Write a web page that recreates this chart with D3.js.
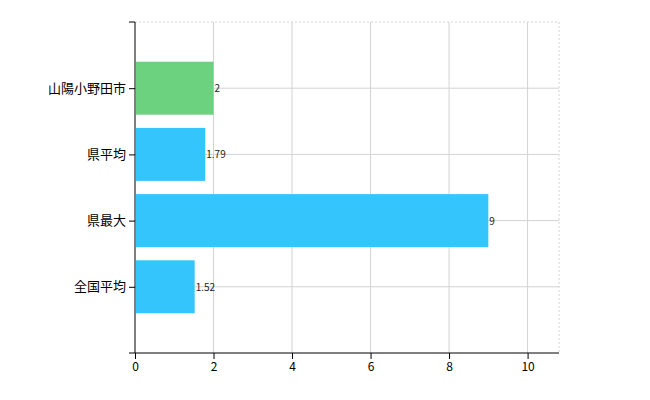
<!DOCTYPE html>
<html><head><meta charset="utf-8">
<script src="https://cdn.jsdelivr.net/npm/d3@7"></script>
<style>body{margin:0;background:#fff}text{font-family:"Noto Sans CJK JP",sans-serif}</style>
</head><body>
<script>
const categories = ["山陽小野田市", "県平均", "県最大", "全国平均"]
const values = [2, 1.79, 9, 1.52]
const barColors = ["#6dd27f", "#35c5fd", "#35c5fd", "#35c5fd"]
const xTicks = [0, 2, 4, 6, 8, 10]

const svg = d3.select("body").append("svg").attr("width", 650).attr("height", 400)
const x = d3.scaleLinear().domain([0, 10.8]).range([135, 559])
const y = d3.scalePoint().domain(categories).range([22, 353]).padding(1)
const barH = 53

// grid
svg.append("g").selectAll("line").data(xTicks.slice(1).concat([10.8])).enter().append("line")
  .attr("x1", d => x(d)).attr("x2", d => x(d)).attr("y1", 22).attr("y2", 353)
  .attr("stroke", "#d3d3d3").attr("stroke-dasharray", d => d === 10.8 ? "2,2" : null)
svg.append("g").selectAll("line").data(categories).enter().append("line")
  .attr("x1", 135).attr("x2", 559).attr("y1", d => y(d)).attr("y2", d => y(d))
  .attr("stroke", "#d3d3d3")
svg.append("line").attr("x1", 135).attr("x2", 559).attr("y1", 22).attr("y2", 22)
  .attr("stroke", "#d3d3d3").attr("stroke-dasharray", "2,2")

svg.selectAll("rect.bar").data(values).enter().append("rect")
  .attr("x", x(0) + 1).attr("y", (d, i) => y(categories[i]) - barH / 2)
  .attr("width", d => x(d) - x(0) - 1).attr("height", barH)
  .attr("fill", (d, i) => barColors[i])

svg.selectAll("text.val").data(values).enter().append("text")
  .attr("x", d => x(d) + 1).attr("y", (d, i) => y(categories[i]) + 4)
  .attr("font-size", 10).attr("fill", "#222").text(d => d)

const yAxis = svg.append("g").attr("transform", "translate(135,0)")
  .call(d3.axisLeft(y).tickSize(6).tickSizeOuter(6))
yAxis.selectAll("text").attr("font-size", 13).attr("fill", "#000")
yAxis.select(".domain").attr("d", "M-6,22H0V353H-6")

const xAxis = svg.append("g").attr("transform", "translate(0,353)")
  .call(d3.axisBottom(x).tickValues(xTicks).tickSizeOuter(0))
xAxis.selectAll("text").attr("font-size", 12).attr("fill", "#000")
xAxis.select(".domain").attr("d", "M135,0H559")
</script>
</body></html>
